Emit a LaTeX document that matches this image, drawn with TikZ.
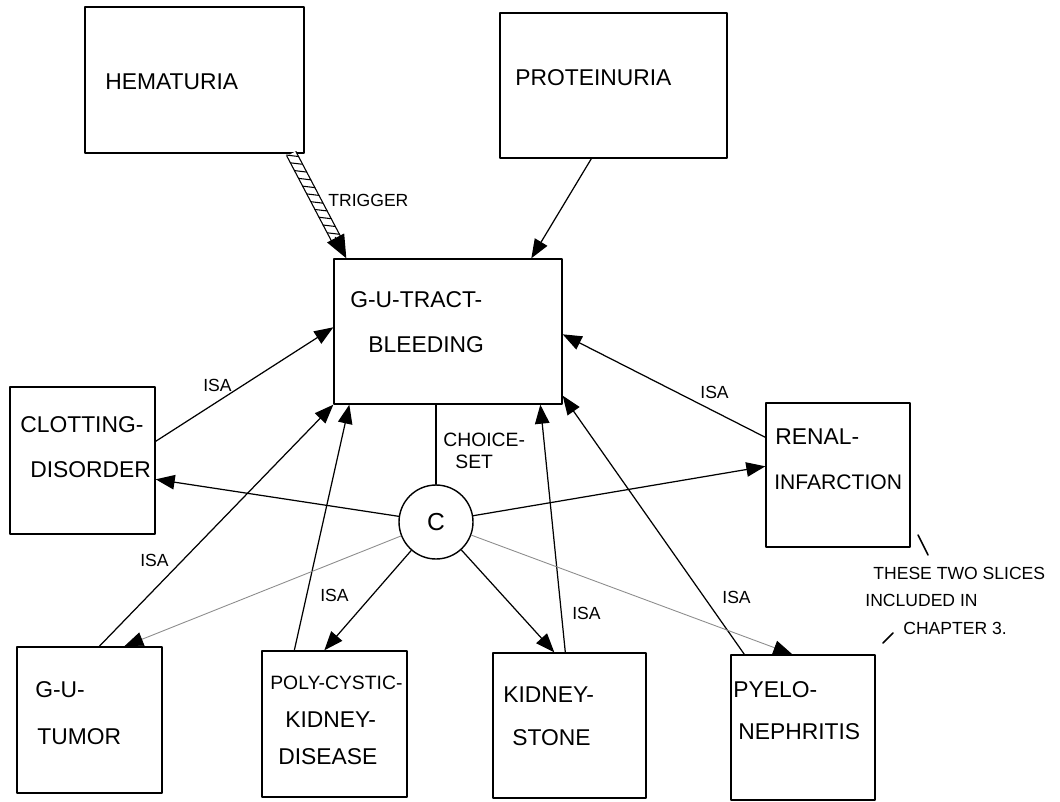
\documentclass[tikz,border=0pt]{standalone}
\usepackage{fontspec}
\setmainfont{Liberation Sans}
\usetikzlibrary{arrows.meta,calc,decorations.markings}

\tikzset{
  slice/.style={draw, line width=0.8pt, inner sep=0pt},
  lbl/.style={anchor=west, inner sep=0pt, font=\fontsize{13}{15}\selectfont},
  tag/.style={anchor=west, inner sep=0pt, font=\fontsize{10}{12}\selectfont},
  isa/.style={-{Triangle[length=3.8mm,width=2.9mm]}, line width=0.7pt},
  faint/.style={-{Triangle[length=3.8mm,width=2.9mm,color=black]}, line width=0.5pt, draw=black!45},
}

\begin{document}
\begin{tikzpicture}[line join=round, line cap=round, x=0.02cm, y=-0.02cm]
    \useasboundingbox (0,0) rectangle (1060,801);
    % slices
    \node[slice, minimum width=4.38cm, minimum height=2.92cm] (hem) at (194.5,80) {};
    \node[slice, minimum width=4.54cm, minimum height=2.9cm] (prot) at (613.5,85.5) {};
    \node[slice, minimum width=4.56cm, minimum height=2.9cm] (gutb) at (448,331.5) {};
    \node[slice, minimum width=2.9cm, minimum height=2.94cm] (clot) at (82.5,460.5) {};
    \node[slice, minimum width=2.88cm, minimum height=2.88cm] (renal) at (838,475) {};
    \node[slice, minimum width=2.9cm, minimum height=2.92cm] (tumor) at (89.5,720) {};
    \node[slice, minimum width=2.9cm, minimum height=2.92cm] (poly) at (334.5,724) {};
    \node[slice, minimum width=3.06cm, minimum height=2.9cm] (stone) at (569.5,725.5) {};
    \node[slice, minimum width=2.88cm, minimum height=2.9cm] (pyelo) at (803,727.5) {};
    \node[draw, circle, line width=0.8pt, minimum size=1.48cm, font=\fontsize{14}{16}\selectfont] (c) at (436,522) {C};

    % names
    \node[lbl] (hem-t) at (105,82) {HEMATURIA};
    \node[lbl] (prot-t) at (515,78) {PROTEINURIA};
    \node[lbl] (gutb-t1) at (350,300) {G-U-TRACT-};
    \node[lbl] (gutb-t2) at (368,345) {BLEEDING};
    \node[lbl] (clot-t1) at (20,425) {CLOTTING-};
    \node[lbl] (clot-t2) at (30,470) {DISORDER};
    \node[lbl] (renal-t1) at (775,437) {RENAL-};
    \node[lbl, font=\fontsize{12}{14}\selectfont] (renal-t2) at (774,482) {INFARCTION};
    \node[lbl] (tumor-t1) at (35,690) {G-U-};
    \node[lbl] (tumor-t2) at (37,737) {TUMOR};
    \node[lbl, font=\fontsize{11}{13}\selectfont] (poly-t1) at (270,683) {POLY-CYSTIC-};
    \node[lbl] (poly-t2) at (285,720) {KIDNEY-};
    \node[lbl] (poly-t3) at (278,757) {DISEASE};
    \node[lbl] (stone-t1) at (503,695) {KIDNEY-};
    \node[lbl] (stone-t2) at (512,738) {STONE};
    \node[lbl] (pyelo-t1) at (733,690) {PYELO-};
    \node[lbl] (pyelo-t2) at (738,732) {NEPHRITIS};

    % trigger
    \coordinate (trg-a) at ($(hem.south west)+(207,0)$);
    \coordinate (trg-b) at ($(gutb.north west)+(13,0)$);
    \draw[double, double distance=5pt, line width=0.7pt, line cap=butt] (trg-a) -- ($(trg-a)!0.86!(trg-b)$);
    \path[postaction={decorate}, decoration={markings,
        mark=between positions 0.02 and 0.84 step 5pt with {\draw[line width=0.6pt] (-2pt,-2.9pt) -- (2pt,2.9pt);}}]
        (trg-a) -- (trg-b);
    \draw[-{Triangle[length=4.6mm,width=3.8mm]}, line width=0.7pt] ($(trg-a)!0.8!(trg-b)$) -- (trg-b);
    \node[tag] (trg-l) at (328,200) {TRIGGER};

    % isa links
    \draw[isa] ($(prot.south west)+(92,0)$) -- ($(gutb.north west)+(198,0)$);
    \draw[isa] ($(clot.north east)+(0,55)$) -- ($(gutb.north west)+(0,69)$);
    \draw[isa] ($(renal.north west)+(0,35)$) -- ($(gutb.north east)+(0,76)$);
    \draw[isa] ($(tumor.north west)+(83,0)$) -- (gutb.south west);
    \draw[isa] ($(poly.north west)+(33,0)$) -- ($(gutb.south west)+(16,0)$);
    \draw[isa] ($(stone.north west)+(73,0)$) -- ($(gutb.south west)+(207,0)$);
    \draw[isa] ($(pyelo.north west)+(14,0)$) -- ($(gutb.south east)+(0,-9)$);
    \node[tag] (isa-clot) at (203,385) {ISA};
    \node[tag] (isa-renal) at (700,392) {ISA};
    \node[tag] (isa-tumor) at (140,560) {ISA};
    \node[tag] (isa-poly) at (320,595) {ISA};
    \node[tag] (isa-stone) at (572,613) {ISA};
    \node[tag] (isa-pyelo) at (722,597) {ISA};

    % choice set
    \draw[line width=0.7pt] (c.north |- gutb.south) -- (c.north);
    \node[tag, font=\fontsize{11}{13}\selectfont] (cs-t1) at (443,440) {CHOICE-};
    \node[tag, font=\fontsize{11}{13}\selectfont] (cs-t2) at (455,462) {SET};
    \draw[isa] (c) -- ($(clot.north east)+(0,93)$);
    \draw[isa] (c) -- ($(renal.north west)+(0,64)$);
    \draw[faint] (c) -- ($(tumor.north west)+(108,0)$);
    \draw[isa] (c) -- ($(poly.north west)+(63,0)$);
    \draw[isa] (c) -- ($(stone.north west)+(62,0)$);
    \draw[faint] (c) -- ($(pyelo.north west)+(62,0)$);

    % note
    \node[tag] (note-1) at (873,573) {THESE TWO SLICES};
    \node[tag] (note-2) at (865,600) {INCLUDED IN};
    \node[tag] (note-3) at (903,628) {CHAPTER 3.};
    \draw[line width=0.9pt] (918,535) -- (928,555);
    \draw[line width=0.9pt] (883,643) -- (893,633);
\end{tikzpicture}
\end{document}
